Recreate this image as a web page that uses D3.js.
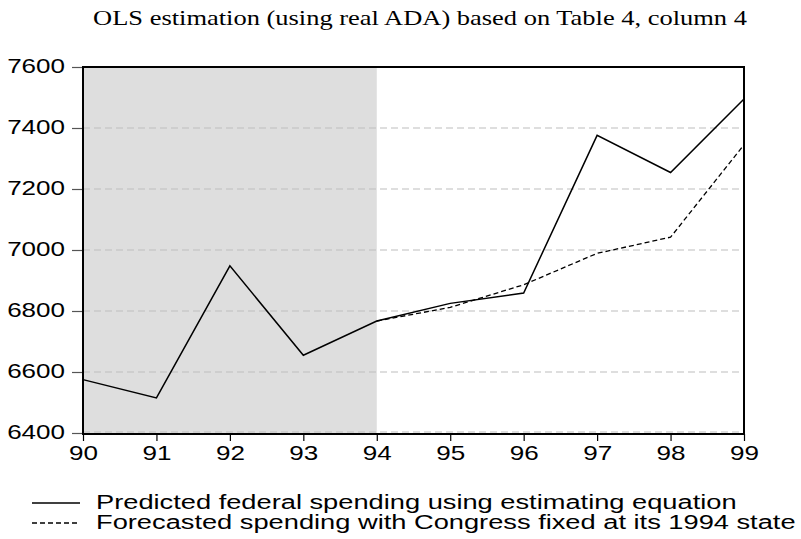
<!DOCTYPE html>
<html>
<head>
<meta charset="utf-8">
<script src="https://cdn.jsdelivr.net/npm/d3@7"></script>
<style>
  html, body { margin: 0; padding: 0; background: #fff; }
  svg { display: block; }
</style>
</head>
<body>
<svg id="chart" width="801" height="539"></svg>
<script>
// Years (two-digit labels) and the two spending series
const years = [90, 91, 92, 93, 94, 95, 96, 97, 98, 99];
const predicted = [6575, 6515, 6948, 6655, 6767, 6825, 6859, 7376, 7254, 7495];
const forecastYears = [94, 95, 96, 97, 98, 99];
const forecast = [6767, 6812, 6886, 6989, 7042, 7345];
const yTicks = [6400, 6600, 6800, 7000, 7200, 7400, 7600];
const shadeRange = [90, 94];
const titleText = "OLS estimation (using real ADA) based on Table 4, column 4";
const legendLabels = [
  "Predicted federal spending using estimating equation",
  "Forecasted spending with Congress fixed at its 1994 state"
];

const svg = d3.select("#chart");
const W = 801, H = 539;
const margin = { left: 83, right: W - 744, top: 67, bottom: H - 433 };
const SANS = "'Liberation Sans', Arial, sans-serif";

const x = d3.scaleLinear().domain([90, 99]).range([margin.left, W - margin.right]);
const y = d3.scaleLinear().domain([6400, 7600]).range([H - margin.bottom, margin.top]);

// Widen glyphs horizontally (the typeface here is set wide)
function widen(sel, factor) {
  sel.each(function () {
    const len = this.getComputedTextLength();
    d3.select(this).attr("textLength", len * factor).attr("lengthAdjust", "spacingAndGlyphs");
  });
}

// Title
svg.append("text")
  .attr("x", 420).attr("y", 25)
  .attr("text-anchor", "middle")
  .attr("font-family", "'Liberation Serif', 'Times New Roman', serif")
  .attr("font-size", 21)
  .text(titleText)
  .call(widen, 1.26);

// Shaded estimation period
svg.append("rect")
  .attr("x", x(shadeRange[0])).attr("y", y(7600))
  .attr("width", x(shadeRange[1]) - x(shadeRange[0]))
  .attr("height", y(6400) - y(7600))
  .attr("fill", "#dedede");

// Horizontal gridlines
svg.append("g").selectAll("line")
  .data(yTicks.filter(d => d < 7600))
  .join("line")
  .attr("x1", x(90)).attr("x2", x(99))
  .attr("y1", d => y(d) - (d === 6400 ? 1 : 0)).attr("y2", d => y(d) - (d === 6400 ? 1 : 0))
  .attr("stroke", "#bdbdbd")
  .attr("stroke-width", 1.2)
  .attr("stroke-dasharray", "7,4");

// Y axis ticks and labels
const yAxis = d3.axisLeft(y).tickValues(yTicks).tickSize(11).tickPadding(7).tickFormat(d3.format("d"));
const gy = svg.append("g").attr("transform", `translate(${x(90)},0)`).call(yAxis);
gy.select(".domain").remove();
gy.selectAll(".tick line").attr("stroke", "#555").attr("stroke-width", 1.2);
gy.selectAll(".tick text")
  .attr("font-family", SANS).attr("font-size", 20).attr("fill", "#000")
  .attr("dy", "0.28em")
  .call(widen, 1.3);

// X axis ticks and labels
const xAxis = d3.axisBottom(x).tickValues(years).tickSize(7).tickPadding(4).tickFormat(d3.format("d"));
const gx = svg.append("g").attr("transform", `translate(0,${y(6400) + 1})`).call(xAxis);
gx.select(".domain").remove();
gx.selectAll(".tick line").attr("stroke", "#000").attr("stroke-width", 1.2);
gx.selectAll(".tick text")
  .attr("font-family", SANS).attr("font-size", 21).attr("fill", "#000")
  .call(widen, 1.24);

// Frame
svg.append("rect")
  .attr("x", x(90)).attr("y", y(7600))
  .attr("width", x(99) - x(90)).attr("height", y(6400) + 1 - y(7600))
  .attr("fill", "none").attr("stroke", "#000").attr("stroke-width", 2);

// Series lines
const line = d3.line().x(d => x(d[0])).y(d => y(d[1]));
svg.append("path")
  .datum(forecastYears.map((yr, i) => [yr, forecast[i]]))
  .attr("d", line)
  .attr("fill", "none").attr("stroke", "#000").attr("stroke-width", 1.3)
  .attr("stroke-dasharray", "5,3");
svg.append("path")
  .datum(years.map((yr, i) => [yr, predicted[i]]))
  .attr("d", line)
  .attr("fill", "none").attr("stroke", "#000").attr("stroke-width", 1.5);

// Legend
const legend = svg.append("g");
legendLabels.forEach((lab, i) => {
  const ly = 503 + i * 20;
  legend.append("line")
    .attr("x1", 32).attr("x2", 80).attr("y1", ly).attr("y2", ly)
    .attr("stroke", "#000").attr("stroke-width", 1.3)
    .attr("stroke-dasharray", i === 1 ? "5,3" : null);
  legend.append("text")
    .attr("x", 96).attr("y", ly + 6)
    .attr("font-family", SANS)
    .attr("font-size", 20)
    .text(lab)
    .call(widen, 1.362);
});
</script>
</body>
</html>
